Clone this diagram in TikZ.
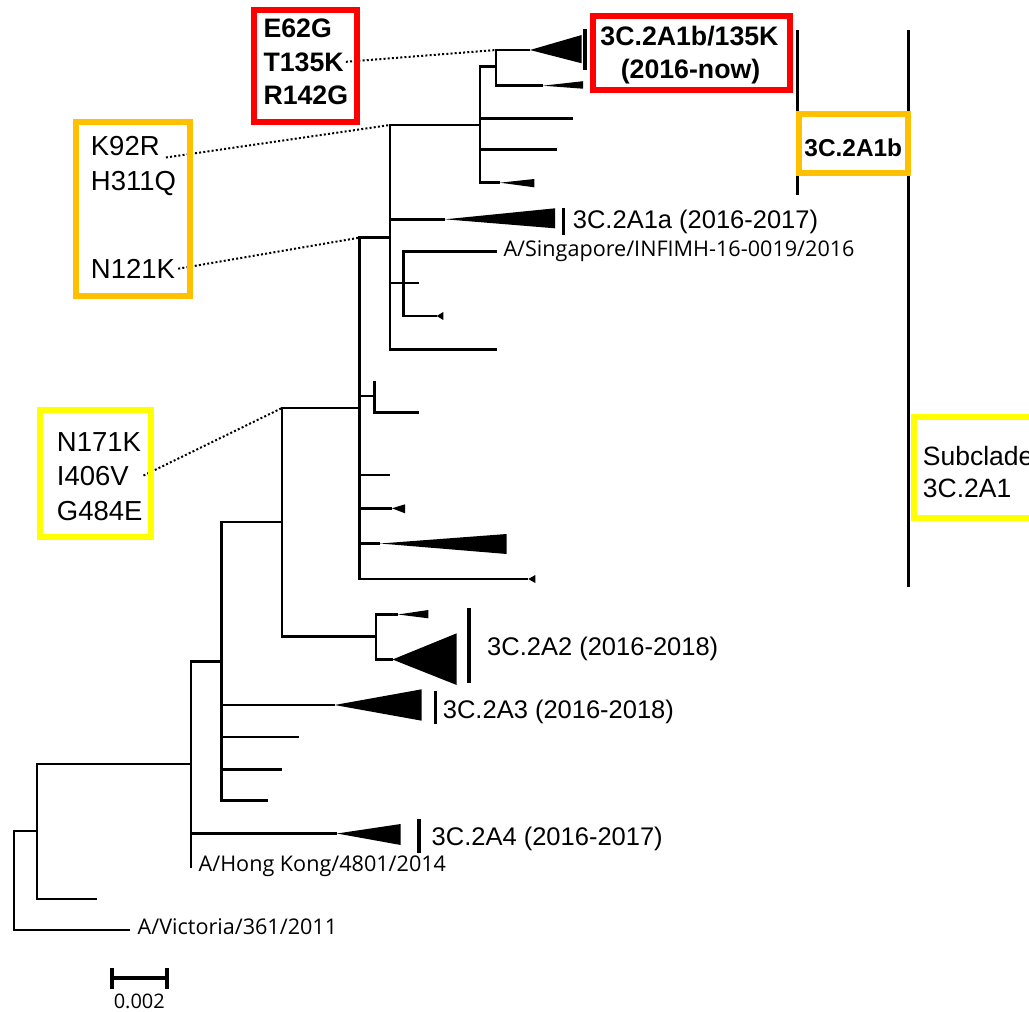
\documentclass[tikz,border=0pt]{standalone}
\usepackage{fontspec}
\setmainfont{Liberation Sans}
\newfontfamily\strainfont{Open Sans}
\definecolor{boxred}{RGB}{255,0,0}
\definecolor{boxorange}{RGB}{255,192,0}
\definecolor{boxyellow}{RGB}{255,255,0}
\newcommand\cladetri[4]{\fill (#1) -- ++(#2,-#3) -- ++(0,#3+#4) -- cycle;}
\begin{document}
\begin{tikzpicture}[x=1pt,y=-1pt,
  br/.style={line width=2.5pt,line join=miter},
  bar/.style={line width=3.4pt},
  mutdot/.style={line width=2pt,dash pattern=on 2pt off 2.2pt},
  frame/.style={line width=6pt},
  lbl/.style={inner sep=0pt,anchor=base west,font=\fontsize{25.5}{30}\selectfont},
  strain/.style={inner sep=0pt,anchor=base west,font=\strainfont\fontsize{21.6}{26}\selectfont},
  redtxt/.style={inner sep=0pt,anchor=base west,font=\bfseries\fontsize{26.7}{32}\selectfont},
  orgtxt/.style={inner sep=0pt,anchor=base west,font=\fontsize{27.5}{32}\selectfont},
  boxtxt/.style={inner sep=0pt,anchor=base,font=\bfseries\fontsize{26.7}{32}\selectfont}
]
\useasboundingbox (0,0) rectangle (1029,1012);
\clip (0,0) rectangle (1029,1012);
\fill[white] (0,0) rectangle (1029,1012);

% ---- tree nodes ----
\coordinate (r) at (14,880);
\coordinate (n1) at (37,831);
\coordinate (vic) at (130,930);
\coordinate (l1) at (97,899);
\coordinate (n2) at (191,764);
\coordinate (hk) at (191,868);
\coordinate (a4) at (337,833.5);
\coordinate (n3) at (221.5,661.7);
\coordinate (a3) at (334.6,705);
\coordinate (l2) at (299,737);
\coordinate (l3) at (282,769.5);
\coordinate (l4) at (268,800.7);
\coordinate (n4) at (282,522);
\coordinate (n6) at (376,636.7);
\coordinate (t1) at (398,614.5);
\coordinate (a2) at (392.5,659.5);
\coordinate (n5) at (359.3,408);
\coordinate (n8) at (374.3,396);
\coordinate (l5) at (374.3,380.7);
\coordinate (l6) at (419.3,412.3);
\coordinate (l7) at (390,475);
\coordinate (t2) at (392,508.3);
\coordinate (t3) at (380,543.5);
\coordinate (t4) at (528.3,579);
\coordinate (n7) at (390,237.7);
\coordinate (a1a) at (445,219.3);
\coordinate (n10) at (403.3,283);
\coordinate (sg) at (496.7,251.7);
\coordinate (l8) at (419.3,283);
\coordinate (t5) at (436.7,316);
\coordinate (l9) at (496.7,349.3);
\coordinate (n9) at (480,125);
\coordinate (n11) at (496,66.7);
\coordinate (k) at (530,50);
\coordinate (t6) at (543,85.7);
\coordinate (l10) at (572.7,118.3);
\coordinate (l11) at (557.3,149.3);
\coordinate (t7) at (500,182.7);

% ---- branches ----
\draw[br] (r) |- (n1) (r) |- (vic);
\draw[br] (n1) |- (n2) (n1) |- (l1);
\draw[br] (n2) |- (n3) (n2) |- (a4) (n2) -- (hk);
\draw[br] (n3) |- (n4) (n3) |- (a3) (n3) |- (l2) (n3) |- (l3) (n3) |- (l4);
\draw[br] (n4) |- (n5) (n4) |- (n6);
\draw[br] (n6) |- (t1) (n6) |- (a2);
\draw[br] (n5) |- (n7) (n5) |- (n8) (n5) |- (l7) (n5) |- (t2) (n5) |- (t3) (n5) |- (t4);
\draw[br] (n8) -- (l5) (n8) |- (l6);
\draw[br] (n7) |- (n9) (n7) |- (a1a) (n7) |- (n10) (n7) |- (l9);
\draw[br] (n10) |- (sg) (n10) -- (l8) (n10) |- (t5);
\draw[br] (n9) |- (n11) (n9) |- (l10) (n9) |- (l11) (n9) |- (t7);
\draw[br] (n11) |- (k) (n11) |- (t6);

% ---- collapsed clades ----
\cladetri{k}{51.7}{15}{13.3}
\cladetri{t6}{40}{4.5}{3}
\cladetri{t7}{34.3}{3.7}{4.6}
\cladetri{a1a}{110}{11}{9}
\cladetri{t5}{6.6}{4}{4}
\cladetri{t2}{13}{4}{5}
\cladetri{t3}{126.7}{9.5}{10.5}
\cladetri{t4}{7}{4}{4}
\cladetri{t1}{30.3}{4.5}{3.8}
\cladetri{a2}{64.2}{26.2}{25.5}
\cladetri{a3}{87.1}{15.7}{15.7}
\cladetri{a4}{63.7}{9.5}{11.5}

% ---- clade bars ----
\draw[bar] (585,29) -- (585,70);
\draw[bar] (563.3,208) -- (563.3,235);
\draw[bar] (469,608.3) -- (469,683.3);
\draw[bar] (435.5,690.7) -- (435.5,724);
\draw[bar] (419,819.3) -- (419,853.3);
\draw[bar] (797.3,30) -- (797.3,195);
\draw[bar] (908.7,30) -- (908.7,586.7);

% ---- labels ----
\node[lbl] (c1a) at (572.7,228.3) {3C.2A1a (2016-2017)};
\node[strain] (sgl) at (503.3,256.3) {A/Singapore/INFIMH-16-0019/2016};
\node[lbl] (c2) at (487,655) {3C.2A2 (2016-2018)};
\node[lbl] (c3) at (442.7,718.3) {3C.2A3 (2016-2018)};
\node[lbl] (c4) at (431.5,845) {3C.2A4 (2016-2017)};
\node[strain] (hkl) at (198.5,871.7) {A/Hong Kong/4801/2014};
\node[strain] (vicl) at (137.5,934.5) {A/Victoria/361/2011};

% ---- scale bar ----
\coordinate (sb1) at (111.7,978.3);
\coordinate (sb2) at (167,978.3);
\draw[line width=4pt] (sb1) -- (sb2);
\draw[line width=4.4pt] ([yshift=-10.3]sb1) -- ([yshift=10]sb1);
\draw[line width=4.4pt] ([yshift=-10.3]sb2) -- ([yshift=10]sb2);
\node[inner sep=0pt,anchor=base,font=\strainfont\fontsize{20}{24}\selectfont] (sbl) at (139.3,1008) {0.002};

% ---- box backgrounds ----
\fill[white] (253.7,10.3) rectangle (357,122);
\fill[white] (75.7,122.3) rectangle (190.3,296);
\fill[white] (39.7,410.3) rectangle (151,537);
\fill[white] (593,16.3) rectangle (790,89.7);
\fill[white] (798.7,114) rectangle (908,172.7);
\fill[white] (913.7,417) rectangle (1045,517.7);

% ---- mutation texts ----
\node[redtxt] (e62g) at (263.3,37.5) {E62G};
\node[redtxt] (t135k) at (263.3,71) {T135K};
\node[redtxt] (r142g) at (263.3,104.5) {R142G};
\node[orgtxt] (k92r) at (90.7,155) {K92R};
\node[orgtxt] (h311q) at (90.7,190) {H311Q};
\node[orgtxt] (n121k) at (90.7,278.3) {N121K};
\node[orgtxt] (n171k) at (56.7,451.7) {N171K};
\node[orgtxt] (i406v) at (56.7,485) {I406V};
\node[orgtxt] (g484e) at (56.7,520) {G484E};

% ---- dotted links ----
\draw[mutdot] ([xshift=2pt]t135k.east) -- (n11 |- k);
\draw[mutdot] ([shift={(6,2.5)}]k92r.base east) -- (n7 |- n9);
\draw[mutdot] ([xshift=3pt]n121k.east) -- (n5 |- n7);
\draw[mutdot] ([xshift=14.5pt]i406v.east) -- (n4 |- n5);

% ---- box frames ----
\draw[frame,draw=boxred] (253.7,10.3) rectangle (357,122);
\draw[frame,draw=boxorange] (75.7,122.3) rectangle (190.3,296);
\draw[frame,draw=boxyellow] (39.7,410.3) rectangle (151,537);
\draw[frame,draw=boxred] (593,16.3) rectangle (790,89.7);
\draw[frame,draw=boxorange] (798.7,114) rectangle (908,172.7);
\draw[frame,draw=boxyellow] (913.7,417) rectangle (1045,517.7);

% ---- clade box texts ----
\node[boxtxt] (k135) at (689.5,45) {3C.2A1b/135K};
\node[boxtxt] (k135y) at (690.5,78.3) {(2016-now)};
\node[boxtxt,font=\bfseries\fontsize{24.4}{28}\selectfont] (a1b) at (853.3,156.7) {3C.2A1b};
\node[orgtxt,font=\fontsize{26.5}{31}\selectfont] (sub1) at (922.7,465) {Subclade};
\node[orgtxt,font=\fontsize{26.5}{31}\selectfont] (sub2) at (922.7,497.3) {3C.2A1};
\end{tikzpicture}
\end{document}
